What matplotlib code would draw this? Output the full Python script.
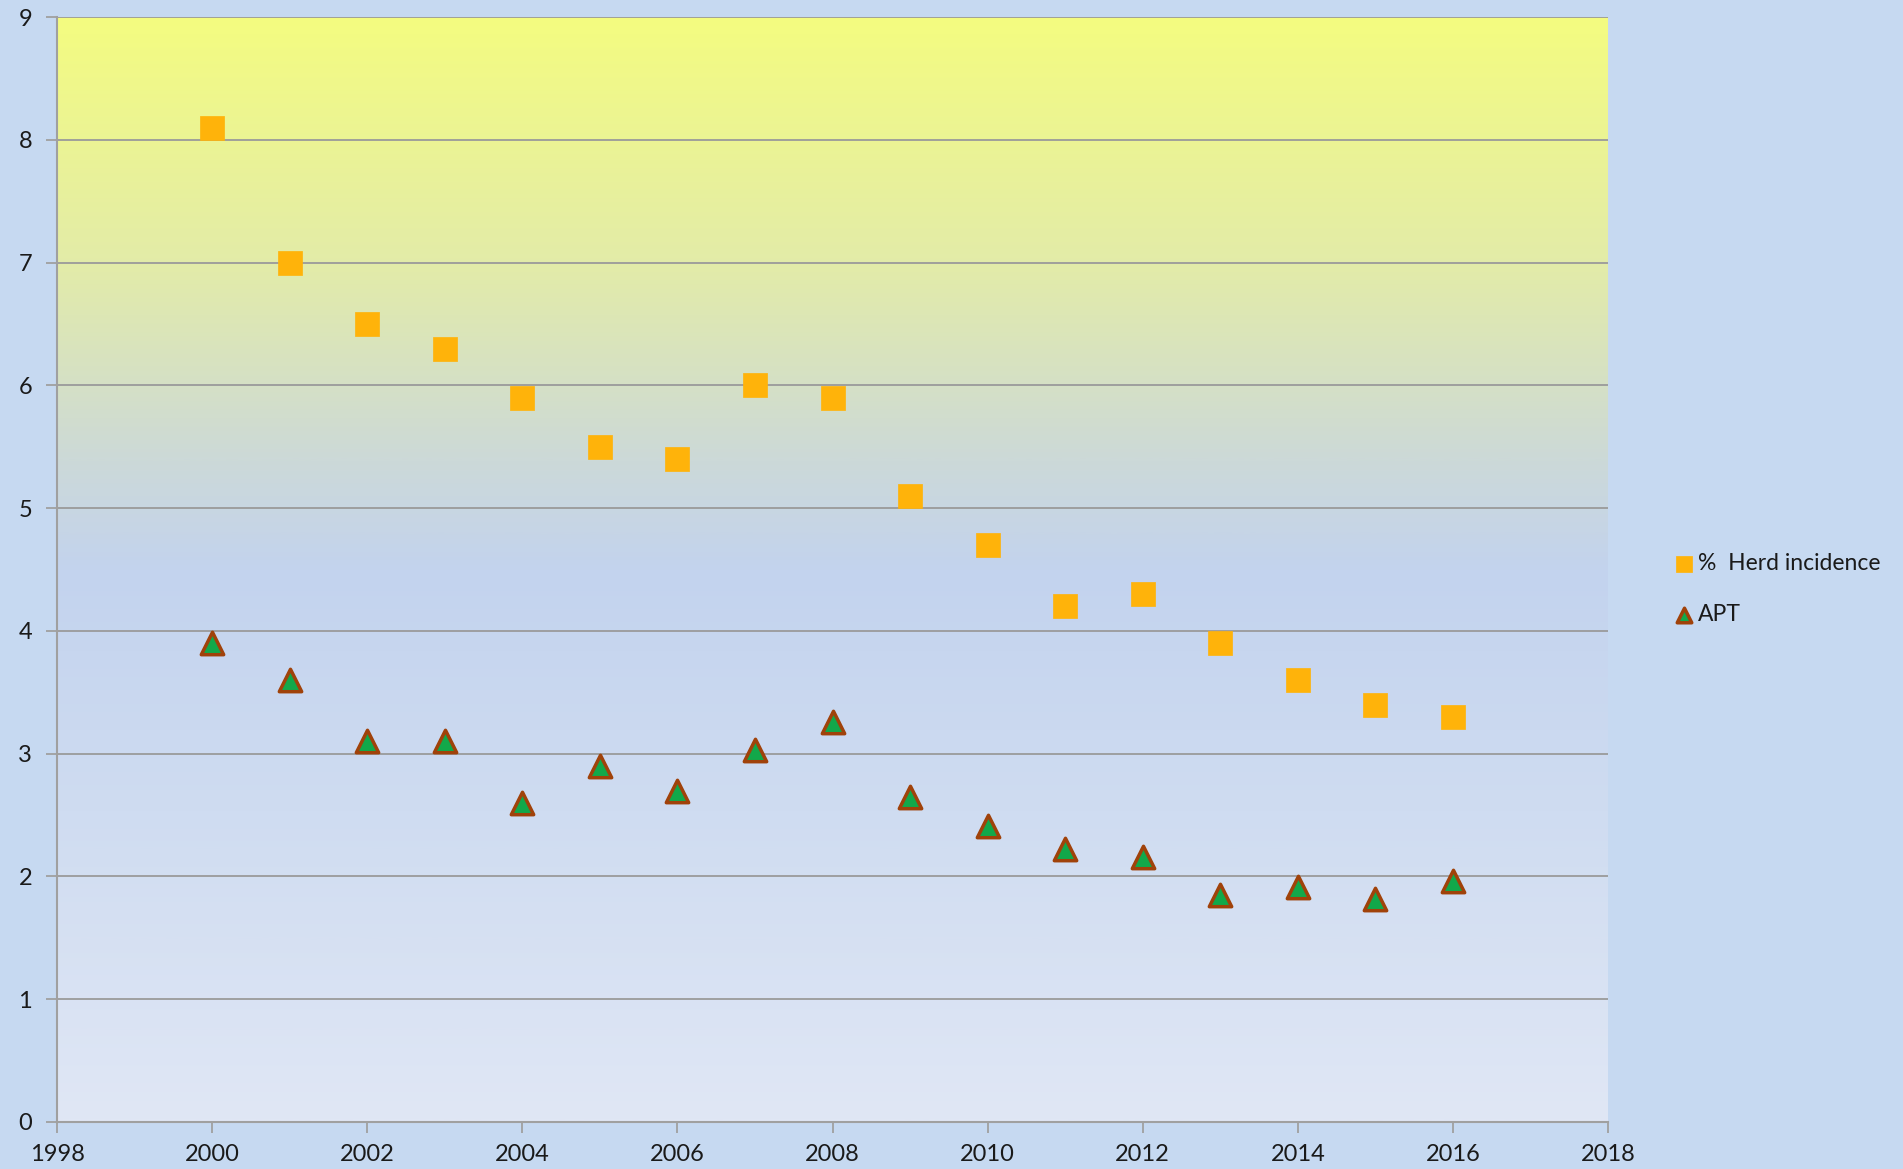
import numpy as np
import matplotlib
matplotlib.use("Agg")
import matplotlib.pyplot as plt
from matplotlib.colors import LinearSegmentedColormap

years = [2000, 2001, 2002, 2003, 2004, 2005, 2006, 2007, 2008,
         2009, 2010, 2011, 2012, 2013, 2014, 2015, 2016]
herd_incidence = [8.1, 7.0, 6.5, 6.3, 5.9, 5.5, 5.4, 6.0, 5.9,
                  5.1, 4.7, 4.2, 4.3, 3.9, 3.6, 3.4, 3.3]
apt = [3.9, 3.6, 3.1, 3.1, 2.6, 2.9, 2.7, 3.03, 3.26,
       2.65, 2.41, 2.22, 2.16, 1.85, 1.91, 1.82, 1.96]
x_ticks = list(range(1998, 2019, 2))
y_ticks = list(range(0, 10))

plt.rcParams['font.family'] = ['Lato', 'DejaVu Sans']

W, H = 1903, 1169
fig = plt.figure(figsize=(W / 100, H / 100), dpi=100)
fig.patch.set_facecolor('#C6D9F1')
left, right, top, bottom = 57, 1608, 17, 1122
ax = fig.add_axes([left / W, 1 - bottom / H, (right - left) / W, (bottom - top) / H])

# gradient background
stops = [(0.0, '#E0E7F5'), (0.28, '#CFDCF1'), (0.50, '#C3D3EE'),
         (0.60, '#CCD9D8'), (0.77, '#E2EBAA'), (1.0, '#F4FC80')]
cmap = LinearSegmentedColormap.from_list('bg', stops)
grad = np.linspace(0, 1, 512).reshape(-1, 1)
ax.imshow(grad, cmap=cmap, aspect='auto', extent=[0, 1, 0, 1],
          transform=ax.transAxes, origin='lower', zorder=0)

ax.set_xlim(1998, 2018)
ax.set_ylim(0, 9)
ax.set_xticks(x_ticks)
ax.set_yticks(y_ticks)
ax.grid(axis='y', color='#9A9A9A', linewidth=1.3, zorder=1)
ax.set_axisbelow(True)

for s in ['top', 'right']:
    ax.spines[s].set_visible(False)
for s in ['left', 'bottom']:
    ax.spines[s].set_color('#A0A0A0')
    ax.spines[s].set_linewidth(1.5)
ax.tick_params(axis='both', colors='#A0A0A0', labelcolor='#1A1A1A',
               labelsize=17, length=8, width=1.3)
ax.tick_params(axis='x', pad=8)
ax.tick_params(axis='y', pad=10)

ax.scatter(years, herd_incidence, marker='s', s=300, color='#FFB30A',
           edgecolors='#FFB30A', linewidths=0.5, zorder=3, label='%  Herd incidence')
ax.scatter(years, apt, marker='^', s=260, color='#12A84A',
           edgecolors='#A0420A', linewidths=2.5, zorder=3, label='APT')

leg = fig.legend(loc='upper left', bbox_to_anchor=(1670 / W, 1 - 553 / H),
                 frameon=False, fontsize=16.5, handletextpad=0.0,
                 handlelength=1.2, labelspacing=1.3, markerscale=0.65,
                 borderaxespad=0, borderpad=0)
for t in leg.get_texts():
    t.set_color('#1A1A1A')

fig.savefig('out.png', dpi=100, facecolor=fig.get_facecolor())
